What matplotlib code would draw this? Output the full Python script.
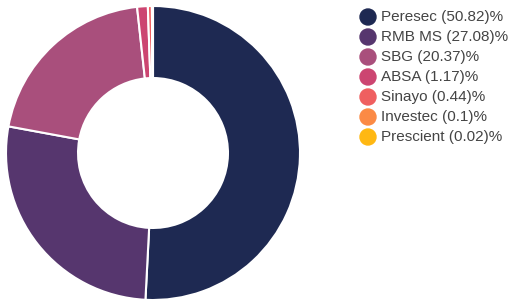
import matplotlib
matplotlib.use("Agg")
import matplotlib.pyplot as plt
from matplotlib.patches import Ellipse

# data
names = ["Peresec", "RMB MS", "SBG", "ABSA", "Sinayo", "Investec", "Prescient"]
shares = [50.82, 27.08, 20.37, 1.17, 0.44, 0.1, 0.02]
colors = ["#1e2952", "#56366e", "#a94f7c", "#cc4571", "#ef5f60", "#fb8a45", "#ffb812"]

plt.rcParams['font.family'] = ['Liberation Sans', 'DejaVu Sans']

W, H = 510, 301
fig = plt.figure(figsize=(W / 100, H / 100), dpi=100)

# donut, centre at (153, 153) px, radius 147 px
cx, cy, r = 153, 153, 147
ax = fig.add_axes([(cx - r) / W, (H - cy - r) / H, 2 * r / W, 2 * r / H])
ax.pie(shares, colors=colors, startangle=90, counterclock=False, radius=1,
       wedgeprops=dict(width=0.49, edgecolor="white", linewidth=1.5))
ax.set_xlim(-1, 1)
ax.set_ylim(-1, 1)
ax.set_aspect("equal")
ax.axis("off")

# legend
for i, (n, s, c) in enumerate(zip(names, shares, colors)):
    y = 1 - (17 + 20 * i) / H
    fig.patches.append(Ellipse((368 / W, y), 16 / W, 16 / H, transform=fig.transFigure,
                               color=c, figure=fig))
    fig.text(381 / W, y, f"{n} ({s})%", fontsize=11, color="#444444",
             va="center", ha="left")

fig.savefig("out.png", dpi=100)
